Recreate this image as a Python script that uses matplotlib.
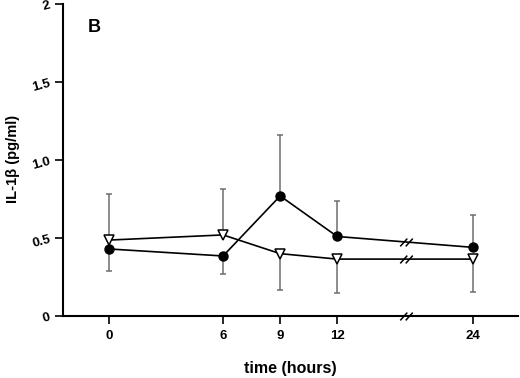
import matplotlib
matplotlib.use("Agg")
import matplotlib.pyplot as plt
from matplotlib.path import Path
import numpy as np

plt.rcParams['font.family'] = ['Liberation Sans', 'DejaVu Sans']

# data
hours = [0, 6, 9, 12, 24]
hour_pos = [0, 6, 9, 12, 19.16]   # 24 h sits after the axis break
break_pos = 15.6

circle_mean = [0.43, 0.385, 0.77, 0.51, 0.44]
circle_up = [0, 0, 0.39, 0.225, 0.207]
circle_down = [0.14, 0.115, 0, 0, 0]

tri_mean = [0.487, 0.52, 0.40, 0.365, 0.365]
tri_up = [0.293, 0.296, 0, 0, 0]
tri_down = [0, 0, 0.233, 0.218, 0.212]

y_ticks = [0, 0.5, 1.0, 1.5, 2]
y_labels = ['0', '0.5', '1.0', '1.5', '2']


def one_sided(ax, x, y, up, down):
    x = np.array(x); y = np.array(y); up = np.array(up); down = np.array(down)
    m = up > 0
    ax.errorbar(x[m], y[m], yerr=[np.zeros(m.sum()), up[m]], fmt='none',
                ecolor='#6e6e6e', elinewidth=1.1, capsize=2.5, capthick=1.1, zorder=1)
    m = down > 0
    ax.errorbar(x[m], y[m], yerr=[down[m], np.zeros(m.sum())], fmt='none',
                ecolor='#6e6e6e', elinewidth=1.1, capsize=2.5, capthick=1.1, zorder=1)


# "//" break mark as a marker
brk = Path([(-1.6, -1), (0.2, 1), (-0.2, -1), (1.6, 1)],
           [Path.MOVETO, Path.LINETO, Path.MOVETO, Path.LINETO])

fig = plt.figure(figsize=(5.2, 3.78), dpi=100)
ax = fig.add_axes([0.121, 0.164, 0.875, 0.825])

one_sided(ax, hour_pos, circle_mean, circle_up, circle_down)
one_sided(ax, hour_pos, tri_mean, tri_up, tri_down)

ax.plot(hour_pos, circle_mean, color='black', lw=1.2, marker='o', ms=6.5,
        mfc='black', mec='black', zorder=3)
ax.plot(hour_pos, tri_mean, color='black', lw=1.2, marker='v', ms=7,
        mfc='white', mec='black', mew=1.1, zorder=3)

# break marks on the lines and on the x axis
yb = [np.interp(break_pos, hour_pos, s) for s in (circle_mean, tri_mean)] + [0]
ax.plot([break_pos] * 3, yb, ls='none', marker=brk, ms=9, mec='black',
        mew=1.1, zorder=4, clip_on=False)

ax.set_xlim(-2.42, 21.5)
ax.set_ylim(0, 2)
ax.set_xticks(hour_pos)
ax.set_xticklabels([str(h) for h in hours], fontweight='bold', fontsize=9.5)
ax.set_yticks(y_ticks)
ax.set_yticklabels(y_labels, fontweight='bold', fontsize=9.5, rotation=15)

for s in ('top', 'right'):
    ax.spines[s].set_visible(False)
for s in ('left', 'bottom'):
    ax.spines[s].set_linewidth(1.5)
ax.tick_params(axis='both', direction='out', length=6, width=1.2, pad=4)
ax.tick_params(axis='y', pad=2)

ax.set_xlabel('time (hours)', fontweight='bold', fontsize=11.5, labelpad=14)
ax.set_ylabel('IL-1β (pg/ml)', fontweight='bold', fontsize=10.5)
ax.yaxis.set_label_coords(-0.095, 0.503)

ax.text(0.055, 0.91, 'B', transform=ax.transAxes, fontweight='bold', fontsize=13)

fig.savefig('out.png', dpi=100)
